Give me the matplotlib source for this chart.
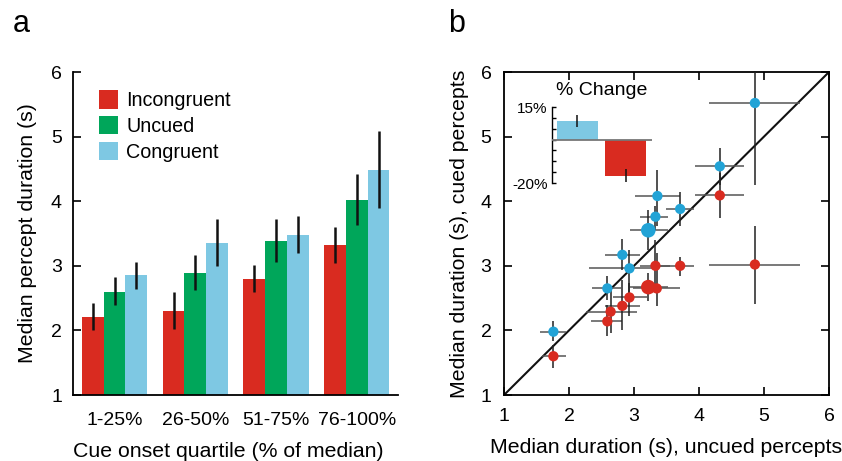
import numpy as np
from matplotlib import pyplot as plt

plt.rcParams['font.family'] = ['Liberation Sans', 'DejaVu Sans']
plt.rcParams['figure.dpi'] = 100

red = "#d92b20"
green = "#00a65a"
light_blue = "#7ec8e3"
dot_blue = "#22a3d6"

# panel a: median percept duration per cue onset quartile
quartiles = ["1-25%", "26-50%", "51-75%", "76-100%"]
conditions = ["Incongruent", "Uncued", "Congruent"]
incongruent = [2.21, 2.30, 2.80, 3.32]
incongruent_lo = [2.00, 2.02, 2.59, 3.05]
incongruent_hi = [2.42, 2.60, 3.02, 3.60]
uncued = [2.60, 2.89, 3.39, 4.02]
uncued_lo = [2.39, 2.62, 3.06, 3.63]
uncued_hi = [2.82, 3.17, 3.72, 4.42]
congruent = [2.85, 3.36, 3.48, 4.48]
congruent_lo = [2.64, 2.99, 3.20, 3.90]
congruent_hi = [3.06, 3.73, 3.77, 5.08]

# panel b: cued vs uncued durations
blue_x = [1.76, 2.59, 2.93, 2.82, 3.22, 3.33, 3.36, 3.71, 4.32, 4.86]
blue_y = [1.98, 2.65, 2.96, 3.17, 3.55, 3.76, 4.08, 3.88, 4.54, 5.52]
blue_x_lo = [1.55, 2.35, 2.30, 2.56, 2.94, 3.09, 3.01, 3.49, 3.94, 4.15]
blue_x_hi = [1.96, 2.81, 3.30, 3.09, 3.53, 3.53, 3.70, 3.93, 4.69, 5.56]
blue_y_lo = [1.83, 2.47, 2.58, 2.93, 3.25, 3.56, 3.61, 3.61, 4.25, 4.25]
blue_y_hi = [2.14, 2.84, 3.25, 3.41, 3.87, 3.92, 4.49, 4.15, 4.82, 6.00]
blue_big = [False, False, False, False, True, False, False, False, False, False]

red_x = [1.76, 2.59, 2.64, 2.82, 2.93, 3.33, 3.71, 3.22, 3.35, 4.32, 4.86]
red_y = [1.60, 2.14, 2.29, 2.38, 2.51, 3.00, 3.00, 2.67, 2.65, 4.09, 3.02]
red_x_lo = [1.58, 2.34, 2.26, 2.56, 2.68, 3.09, 3.36, 2.94, 2.99, 3.94, 4.15]
red_x_hi = [1.95, 2.81, 3.04, 3.09, 3.20, 3.56, 3.93, 3.53, 3.70, 4.69, 5.56]
red_y_lo = [1.42, 1.91, 1.96, 2.01, 2.22, 2.63, 2.84, 2.45, 2.37, 3.74, 2.41]
red_y_hi = [1.78, 2.40, 2.63, 2.78, 2.73, 3.40, 3.14, 2.89, 3.20, 4.43, 3.61]
red_big = [False, False, False, False, False, False, False, True, False, False, False]

# inset: % change
change_values = [8.6, -16.6]
change_lo = [5.7, -19.7]
change_hi = [11.3, -13.7]


def px(l, b, r, t):
    W, H = 842, 461
    return [l / W, (H - b) / H, (r - l) / W, (b - t) / H]


fig = plt.figure(figsize=(8.42, 4.61))

# ---------- panel a ----------
ax = fig.add_axes(px(73, 395, 398, 72))
x = np.arange(len(quartiles))
w = 0.269
series = [(incongruent, incongruent_lo, incongruent_hi, red),
          (uncued, uncued_lo, uncued_hi, green),
          (congruent, congruent_lo, congruent_hi, light_blue)]
for i, (vals, lo, hi, col) in enumerate(series):
    pos = x + (i - 1) * w
    vals = np.array(vals)
    ax.bar(pos, vals - 1, bottom=1, width=w, color=col, label=conditions[i], zorder=2)
    ax.vlines(pos, lo, hi, color="#111111", linewidth=1.8, zorder=3)

ax.set_xlim(-0.515, 3.51)
ax.set_ylim(1, 6)
ax.set_yticks([1, 2, 3, 4, 5, 6])
ax.set_xticks(x)
ax.set_xticklabels(quartiles)
ax.tick_params(axis="y", direction="in", length=6, width=1.2, labelsize=14, pad=8)
ax.tick_params(axis="x", length=0, labelsize=14, pad=12)
for s in ["top", "right"]:
    ax.spines[s].set_visible(False)
for s in ["left", "bottom"]:
    ax.spines[s].set_linewidth(1.3)
ax.set_ylabel("Median percept duration (s)", fontsize=15.3, labelpad=10)
ax.set_xlabel("Cue onset quartile (% of median)", fontsize=15.3)
ax.xaxis.set_label_coords(0.478, -0.145)
ax.legend(loc="upper left", bbox_to_anchor=(0.057, 0.968), frameon=False, fontsize=14.2,
          handlelength=0.95, handleheight=1.05, handletextpad=0.4, labelspacing=0.3,
          borderaxespad=0)
fig.text(13 / 842, 1 - 24 / 461, "a", fontsize=22, va="center", ha="left")

# ---------- panel b ----------
bx = fig.add_axes(px(504, 395, 829, 72))
bx.plot([1, 6], [1, 6], color="#111111", linewidth=1.5, zorder=2)

for xs, ys, xl, xh, yl, yh, big, col in [
        (red_x, red_y, red_x_lo, red_x_hi, red_y_lo, red_y_hi, red_big, red),
        (blue_x, blue_y, blue_x_lo, blue_x_hi, blue_y_lo, blue_y_hi, blue_big, dot_blue)]:
    xs, ys = np.array(xs), np.array(ys)
    bx.hlines(ys, xl, xh, color="#555555", linewidth=1.1, zorder=3)
    bx.vlines(xs, yl, yh, color="#222222", linewidth=1.1, zorder=3)
    sizes = np.where(big, 110, 55)
    bx.scatter(xs, ys, s=sizes, color=col, edgecolors="none", zorder=4)

bx.set_xlim(1, 6)
bx.set_ylim(1, 6)
bx.set_xticks([1, 2, 3, 4, 5, 6])
bx.set_yticks([1, 2, 3, 4, 5, 6])
bx.tick_params(direction="in", length=6, width=1.2, labelsize=14, top=True, right=True, pad=9)
for s in bx.spines.values():
    s.set_linewidth(1.3)
bx.set_xlabel("Median duration (s), uncued percepts", fontsize=15.3, labelpad=10)
bx.set_ylabel("Median duration (s), cued percepts", fontsize=15.3, labelpad=8)
fig.text(448 / 842, 1 - 24 / 461, "b", fontsize=22, va="center", ha="left")

# ---------- inset ----------
ix = fig.add_axes(px(552, 183, 652, 107))
ix.patch.set_visible(False)
ix.bar([0, 1], change_values, width=0.85, color=[light_blue, red], zorder=2)
ix.vlines([0, 1], change_lo, change_hi, color="#111111", linewidth=1.1, zorder=3)
ix.axhline(0, color="#777777", linewidth=1.3, zorder=4)
ix.set_xlim(-0.53, 1.55)
ix.set_ylim(-20, 15)
ix.set_yticks(np.arange(-20, 16, 5))
ix.set_yticklabels(["-20%", "", "", "", "", "", "", "15%"])
ix.set_xticks([])
ix.tick_params(axis="y", direction="in", length=3, width=1, labelsize=11, pad=3)
for s in ["top", "right", "bottom"]:
    ix.spines[s].set_visible(False)
ix.spines["left"].set_linewidth(1)
ix.text(0.04, 1.1, "% Change", transform=ix.transAxes, fontsize=14, ha="left", va="bottom")

plt.savefig("out.png", dpi=100)
